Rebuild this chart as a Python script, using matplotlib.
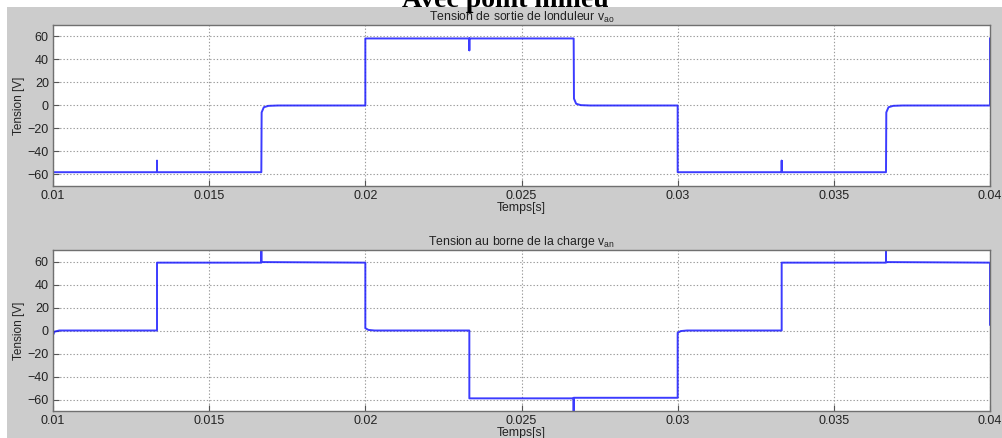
import matplotlib
matplotlib.use("Agg")
import matplotlib.pyplot as plt
from matplotlib.patches import Rectangle

plt.rcParams['font.family'] = ['Liberation Sans', 'DejaVu Sans']
plt.rcParams['mathtext.default'] = 'regular'

# Inverter output voltage v_ao (time [s], voltage [V])
t_ao = [0.01, 0.01, 0.01333, 0.01333, 0.01333, 0.01667, 0.01668, 0.01675, 0.0169, 0.0172,
        0.02, 0.02, 0.02333, 0.02333, 0.02333, 0.02667, 0.02668, 0.02675, 0.0269, 0.0272,
        0.03, 0.03, 0.03333, 0.03333, 0.03333, 0.03667, 0.03668, 0.03675, 0.0369, 0.0372,
        0.04, 0.04]
v_ao = [0, -58, -58, -48, -58, -58, -6, -1.5, -0.3, 0,
        0, 58.3, 58.3, 48, 58.3, 58.3, 6, 1.5, 0.3, 0,
        0, -58, -58, -48, -58, -58, -6, -1.5, -0.3, 0,
        0, 58.3]

# Load voltage v_an (time [s], voltage [V])
t_an = [0.01, 0.01, 0.01005, 0.0102, 0.01333, 0.01333, 0.01667, 0.01667, 0.01667, 0.02,
        0.02, 0.0201, 0.0203, 0.02333, 0.02333, 0.02667, 0.02667, 0.02667, 0.03,
        0.03, 0.0301, 0.0303, 0.03333, 0.03333, 0.03667, 0.03667, 0.03667, 0.04, 0.04]
v_an = [-58, -4, -1, 0, 0, 59, 59, 71, 59.5, 59,
        2, 0.5, 0, 0, -59, -59, -72, -58.5, -58.5,
        -2, -0.5, 0, 0, 59, 59, 71, 59.5, 59, 5]

x_ticks = [0.01, 0.015, 0.02, 0.025, 0.03, 0.035, 0.04]
x_labels = ['0.01', '0.015', '0.02', '0.025', '0.03', '0.035', '0.04']
y_ticks = [-60, -40, -20, 0, 20, 40, 60]

W, H = 1003, 438
fig = plt.figure(figsize=(W / 100, H / 100), dpi=100, facecolor='white')

# grey panel behind the plots
panel = Rectangle((7 / W, 0), 1 - 7 / W, 1 - 7 / H, transform=fig.transFigure,
                  facecolor='#cccccc', edgecolor='none', zorder=-10)
fig.add_artist(panel)

fig.text(505 / W, 1 - 7 / H, 'Avec point milieu', ha='center', va='baseline',
         family='Liberation Serif', fontweight='bold', fontsize=20, color='black', zorder=5)

def style(ax, t, v, title):
    ax.set_facecolor('white')
    ax.plot(t, v, color='#1a1aff', lw=1.4, alpha=0.85, solid_joinstyle='round')
    ax.set_xlim(0.01, 0.04)
    ax.set_ylim(-70, 70)
    ax.set_xticks(x_ticks)
    ax.set_xticklabels(x_labels)
    ax.set_yticks(y_ticks)
    ax.grid(True, ls=(0, (1.2, 1.8)), color='#9a9a9a', lw=0.8)
    ax.tick_params(direction='in', length=4, width=0.8, color='#555555',
                   labelsize=9, labelcolor='#222222', pad=3, top=False, right=False)
    for s in ax.spines.values():
        s.set_color('#707070')
        s.set_linewidth(1.0)
    ax.set_title(title, fontsize=8.8, color='#222222', pad=1)
    ax.set_xlabel('Temps[s]', fontsize=8.8, color='#222222', labelpad=0)
    ax.set_ylabel('Tension [V]', fontsize=8.5, color='#222222', labelpad=2)

ax1 = fig.add_axes([53 / W, 1 - 186 / H, 937 / W, 161 / H])
style(ax1, t_ao, v_ao, 'Tension de sortie de londuleur v$_{ao}$')

ax2 = fig.add_axes([53 / W, 1 - 411 / H, 937 / W, 161 / H])
style(ax2, t_an, v_an, 'Tension au borne de la charge v$_{an}$')

fig.savefig('out.png', dpi=100, facecolor='white')
